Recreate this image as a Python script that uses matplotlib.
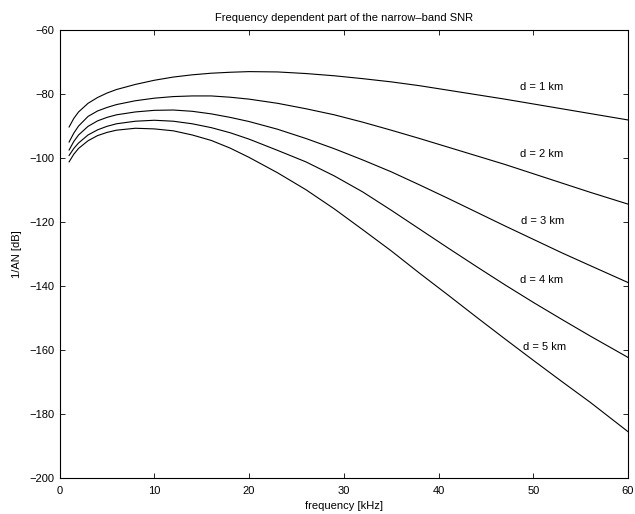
# Frequency dependent part of the narrow-band SNR, 1/(A N) vs frequency
import numpy as np
import matplotlib
matplotlib.use('Agg')
import matplotlib.pyplot as plt

plt.rcParams['font.family'] = ['Liberation Sans', 'DejaVu Sans']
plt.rcParams['font.size'] = 8

# values
freq_khz = [1, 1.5, 2, 3, 4, 5, 6, 8, 10, 12, 14, 16, 18, 20, 23, 26, 29, 32,
            35, 38, 41, 44, 47, 50, 53, 56, 60]

snr_d1 = [-90.3, -87.6, -85.6, -82.9, -81.1, -79.7, -78.6, -77.0, -75.7, -74.7,
          -74.0, -73.5, -73.2, -73.0, -73.1, -73.6, -74.3, -75.2, -76.2, -77.4,
          -78.8, -80.2, -81.6, -83.1, -84.6, -86.1, -88.1]
snr_d2 = [-95.0, -92.2, -90.0, -87.0, -85.3, -84.2, -83.3, -82.1, -81.3, -80.8,
          -80.6, -80.6, -81.0, -81.6, -82.9, -84.6, -86.5, -88.8, -91.3, -93.9,
          -96.6, -99.3, -102.0, -104.9, -107.8, -110.7, -114.4]
snr_d3 = [-97.5, -94.8, -92.8, -90.1, -88.4, -87.3, -86.5, -85.6, -85.1, -85.0,
          -85.4, -86.2, -87.3, -88.6, -91.0, -93.9, -97.1, -100.6, -104.3,
          -108.4, -112.6, -116.9, -121.2, -125.4, -129.6, -133.6, -138.9]
snr_d4 = [-99.2, -97.0, -95.3, -92.8, -91.2, -90.1, -89.3, -88.5, -88.2, -88.5,
          -89.3, -90.5, -92.1, -94.1, -97.6, -101.2, -105.6, -110.6, -116.3,
          -122.2, -128.1, -133.9, -139.6, -145.1, -150.4, -155.6, -162.3]
snr_d5 = [-101.2, -98.8, -97.0, -94.6, -93.0, -92.0, -91.3, -90.7, -90.9,
          -91.5, -92.8, -94.5, -96.9, -99.8, -104.6, -109.9, -115.9, -122.4,
          -129.0, -136.0, -142.8, -149.7, -156.5, -163.2, -169.8, -176.3,
          -185.5]

curves = [snr_d1, snr_d2, snr_d3, snr_d4, snr_d5]
labels = ['d = 1 km', 'd = 2 km', 'd = 3 km', 'd = 4 km', 'd = 5 km']
label_y = [-77.7, -98.8, -119.7, -138.1, -159.2]
label_x = [48.6, 48.6, 48.7, 48.6, 48.9]

fig = plt.figure(figsize=(6.35, 5.14), dpi=100)
ax = fig.add_axes([0.0939, 0.070, 0.895, 0.8716])

for vals in curves:
    ax.plot(freq_khz, vals, color='black', linewidth=0.8)

for lx, ly, txt in zip(label_x, label_y, labels):
    ax.text(lx, ly, txt, ha='left', va='center', fontsize=8)

ax.set_xlim(0, 60)
ax.set_ylim(-200, -60)
ax.set_xticks(np.arange(0, 61, 10))
ax.set_yticks(np.arange(-200, -59, 20))
ax.tick_params(direction='in', top=True, right=True, length=3.5, width=0.6,
               labelsize=8)
ax.tick_params(axis='x', pad=6)
ax.tick_params(axis='y', pad=4)
for sp in ax.spines.values():
    sp.set_linewidth(0.8)

ax.set_title('Frequency dependent part of the narrow\u2013band SNR', fontsize=8, pad=6.5)
ax.set_xlabel('frequency [kHz]', labelpad=3.5)
ax.set_ylabel('1/AN [dB]', labelpad=5)

fig.savefig('out.png', dpi=100)
